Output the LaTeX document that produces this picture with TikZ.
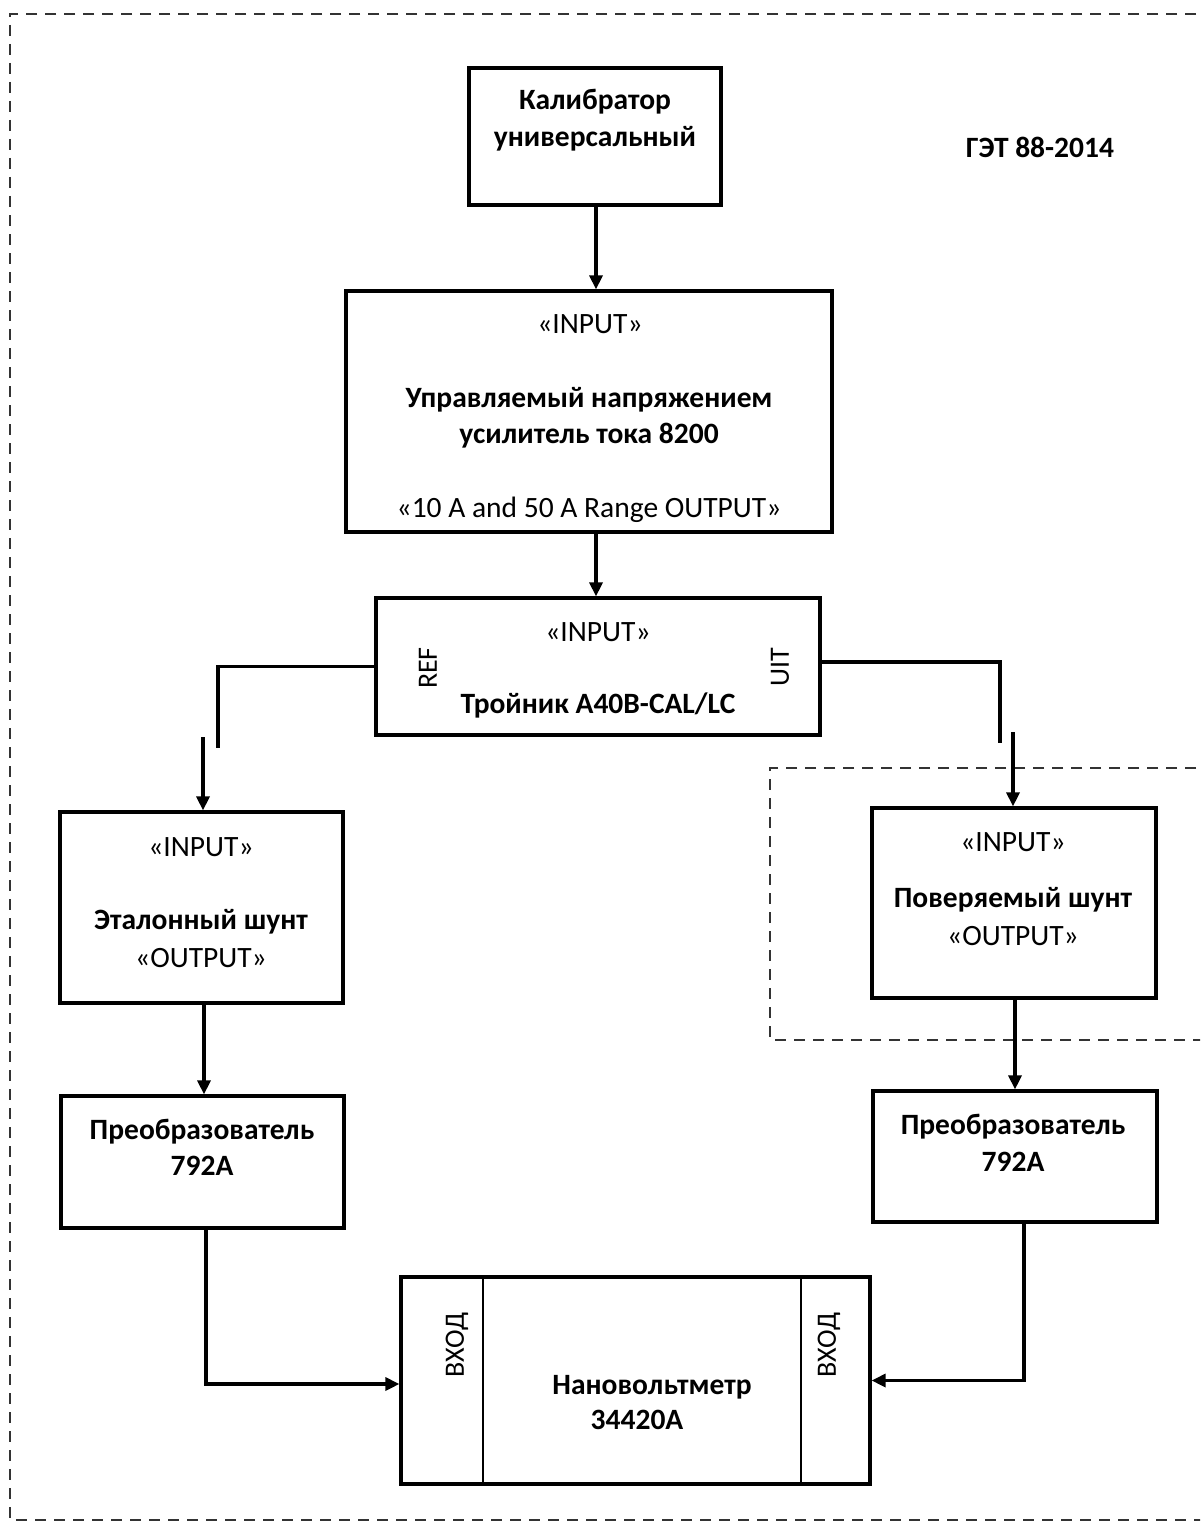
\documentclass[tikz,border=0pt]{standalone}
\usepackage{fontspec}
\setmainfont{Carlito}
\usetikzlibrary{arrows.meta}
\tikzset{
  box/.style={draw, line width=3.2pt, minimum width=#1, inner sep=0pt},
  txt/.style={anchor=base, inner sep=0pt, font=\fontsize{29.5}{35}\selectfont},
  btxt/.style={txt, font=\fontsize{29.5}{35}\selectfont\bfseries},
  rtxt/.style={anchor=center, rotate=90, inner sep=0pt, font=\fontsize{28}{32}\selectfont},
  conn/.style={line width=3.2pt},
  arr/.style={line width=3.2pt, -{Triangle[length=14pt,width=13pt]}},
  frame/.style={draw=black!80, line width=2pt, dash pattern=on 11pt off 8pt}
}
\begin{document}
\begin{tikzpicture}[x=1pt,y=-1pt]
\useasboundingbox (0,0) rectangle (1200,1525);
\clip (0,0) rectangle (1200,1525);
\fill[white] (0,0) rectangle (1200,1525);
% dashed frames
\draw[frame] (1215,14) -- (10,14) -- (10,1520) -- (1215,1520);
\draw[frame] (1215,768) -- (770,768) -- (770,1040) -- (1215,1040);
% boxes
\node[box=252pt, minimum height=137pt] (cal) at (595,136.5) {};
\node[box=486pt, minimum height=241pt] (amp) at (589,411.5) {};
\node[box=444pt, minimum height=137pt] (tee) at (598,666.5) {};
\node[box=283pt, minimum height=191pt] (shL) at (201.5,907.5) {};
\node[box=284pt, minimum height=190pt] (shR) at (1014,903) {};
\node[box=283pt, minimum height=132pt] (cvL) at (202.5,1162) {};
\node[box=284pt, minimum height=131pt] (cvR) at (1015,1156.5) {};
\node[box=469pt, minimum height=207pt] (nano) at (635.5,1380.5) {};
\draw[line width=2.8pt] (483,1277) -- (483,1484);
\draw[line width=2.8pt] (801,1277) -- (801,1484);
% texts
\node[btxt] (t1) at (595,110) {Калибратор};
\node[btxt] (t2) at (595,147) {универсальный};
\node[btxt] (get) at (1040,158) {ГЭТ 88-2014};
\node[txt] (a1) at (590,333) {«INPUT»};
\node[btxt] (a2) at (589,407) {Управляемый напряжением};
\node[btxt] (a3) at (589,443) {усилитель тока 8200};
\node[txt] (a4) at (589,517) {«10 A and 50 A Range OUTPUT»};
\node[txt] (e1) at (598,641) {«INPUT»};
\node[btxt] (e2) at (598,713) {Тройник A40B-CAL/LC};
\node[rtxt] (ref) at (428,668) {REF};
\node[rtxt] (uit) at (780,667) {UIT};
\node[txt] (l1) at (201,856) {«INPUT»};
\node[btxt] (l2) at (201,929) {Эталонный шунт};
\node[txt] (l3) at (201,967) {«OUTPUT»};
\node[txt] (r1) at (1013,851) {«INPUT»};
\node[btxt] (r2) at (1013,907) {Поверяемый шунт};
\node[txt] (r3) at (1013,945) {«OUTPUT»};
\node[btxt] (c1) at (202,1139) {Преобразователь};
\node[btxt] (c2) at (202,1175) {792A};
\node[btxt] (d1) at (1013,1134) {Преобразователь};
\node[btxt] (d2) at (1013,1171) {792A};
\node[btxt] (n1) at (652,1394) {Нановольтметр};
\node[btxt] (n2) at (637,1429) {34420A};
\node[rtxt] (v1) at (457,1345) {ВХОД};
\node[rtxt] (v2) at (829,1345) {ВХОД};
% connectors
\coordinate (ax) at (596,0);
\draw[arr] (ax |- cal.south) -- (ax |- amp.north);
\draw[arr] (ax |- amp.south) -- (ax |- tee.north);
\coordinate (refEnd) at (218,748);
\coordinate (refStart) at (203,737);
\draw[conn] (tee.west) -| (refEnd);
\draw[arr] (refStart) -- (refStart |- shL.north);
\coordinate (uitEnd) at (1000,743);
\coordinate (uitStart) at (1013,732);
\draw[conn] ([yshift=4.5pt]tee.east) -| (uitEnd);
\draw[arr] (uitStart) -- (uitStart |- shR.north);
\coordinate (lx) at (204,0);
\draw[arr] (lx |- shL.south) -- (lx |- cvL.north);
\coordinate (rx) at (1015,0);
\draw[arr] (rx |- shR.south) -- (rx |- cvR.north);
\coordinate (lb) at (206,0);
\draw[arr] (lb |- cvL.south) |- ([yshift=-3.5pt]nano.west);
\coordinate (rb) at (1024,0);
\draw[arr] (rb |- cvR.south) |- (nano.east);
\end{tikzpicture}
\end{document}
